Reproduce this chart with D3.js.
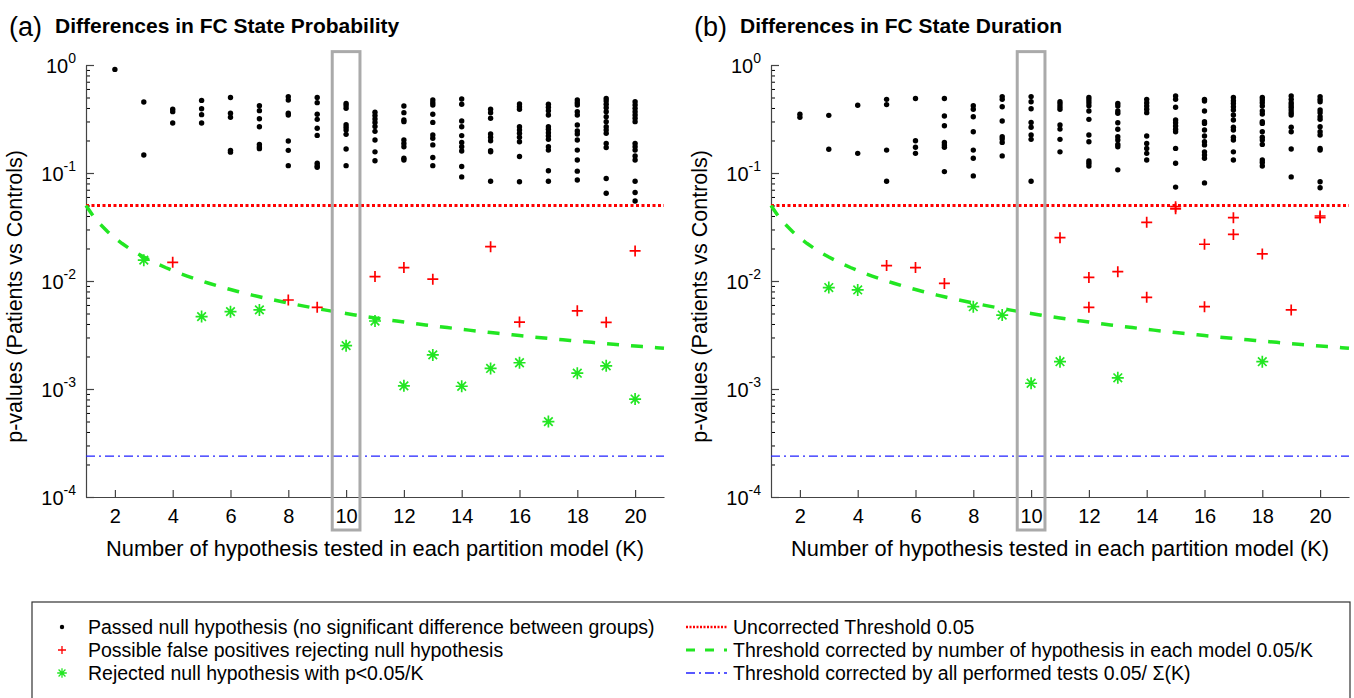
<!DOCTYPE html>
<html>
<head>
<meta charset="utf-8">
<script src="https://cdn.jsdelivr.net/npm/d3@7"></script>
<style>
  body { margin: 0; background: #fff; }
  text { font-family: "Liberation Sans", Arial, Helvetica, sans-serif; }
</style>
</head>
<body>
<script>
// K values (number of hypothesis per partition model)
var kValues = [2, 3, 4, 5, 6, 7, 8, 9, 10, 11, 12, 13, 14, 15, 16, 17, 18, 19, 20];
var xTicks = [2, 4, 6, 8, 10, 12, 14, 16, 18, 20];
var yTickExps = [0, -1, -2, -3, -4];

// (a) state probability: p-values that passed, one list per K
var passedProb = [
  [0.91],
  [0.454, 0.147],
  [0.389, 0.37, 0.29],
  [0.47, 0.394, 0.347, 0.29],
  [0.50, 0.357, 0.328, 0.162, 0.156],
  [0.42, 0.378, 0.318, 0.268, 0.184, 0.174, 0.168],
  [0.51, 0.474, 0.357, 0.344, 0.198, 0.162, 0.117],
  [0.50, 0.448, 0.35, 0.314, 0.26, 0.223, 0.123, 0.117, 0.113],
  [0.44, 0.42, 0.397, 0.28, 0.265, 0.25, 0.228, 0.167, 0.117],
  [0.365, 0.34, 0.316, 0.294, 0.27, 0.243, 0.202, 0.157, 0.13],
  [0.417, 0.362, 0.31, 0.299, 0.202, 0.188, 0.175, 0.137, 0.132],
  [0.474, 0.448, 0.426, 0.35, 0.294, 0.225, 0.21, 0.182, 0.139, 0.117],
  [0.484, 0.433, 0.303, 0.268, 0.222, 0.192, 0.175, 0.16, 0.115, 0.092],
  [0.389, 0.362, 0.321, 0.23, 0.214, 0.199, 0.161, 0.157, 0.084],
  [0.435, 0.411, 0.389, 0.268, 0.25, 0.233, 0.214, 0.195, 0.142, 0.083],
  [0.433, 0.406, 0.378, 0.344, 0.268, 0.254, 0.236, 0.22, 0.205, 0.175, 0.163, 0.105, 0.084],
  [0.474, 0.448, 0.426, 0.37, 0.344, 0.278, 0.245, 0.23, 0.202, 0.163, 0.132, 0.104, 0.086],
  [0.49, 0.464, 0.433, 0.403, 0.37, 0.332, 0.299, 0.268, 0.25, 0.233, 0.188, 0.172, 0.089, 0.065],
  [0.457, 0.426, 0.397, 0.37, 0.344, 0.321, 0.299, 0.188, 0.175, 0.163, 0.144, 0.132, 0.084, 0.066, 0.055]
];
// [K, p] possible false positives
var falsePosProb = [[4, 0.0149], [8, 0.00667], [9, 0.0057], [11, 0.011], [12, 0.0133], [13, 0.0104],
  [15, 0.0208], [16, 0.00417], [18, 0.0053], [19, 0.00414], [20, 0.019]];
// [K, p] rejected with p < 0.05/K
var rejectedProb = [[3, 0.0156], [5, 0.00468], [6, 0.0052], [7, 0.0054], [10, 0.00252], [11, 0.00426],
  [12, 0.00107], [13, 0.00207], [14, 0.00106], [15, 0.00155], [16, 0.00175], [17, 0.000499],
  [18, 0.0014], [19, 0.00164], [20, 0.000807]];

// (b) state duration
var passedDur = [
  [0.35, 0.328],
  [0.342, 0.166],
  [0.424, 0.152],
  [0.481, 0.43, 0.163, 0.084],
  [0.49, 0.199, 0.173, 0.152],
  [0.49, 0.337, 0.274, 0.192, 0.182, 0.173, 0.103],
  [0.42, 0.389, 0.332, 0.241, 0.163, 0.137, 0.094],
  [0.51, 0.481, 0.411, 0.303, 0.217, 0.206, 0.192, 0.144],
  [0.51, 0.457, 0.394, 0.294, 0.265, 0.225, 0.205, 0.084],
  [0.457, 0.435, 0.411, 0.389, 0.278, 0.255, 0.205, 0.157],
  [0.50, 0.474, 0.448, 0.42, 0.375, 0.314, 0.225, 0.195, 0.129, 0.123, 0.116],
  [0.44, 0.417, 0.375, 0.357, 0.292, 0.254, 0.217, 0.202, 0.184, 0.175, 0.107],
  [0.481, 0.448, 0.417, 0.389, 0.362, 0.22, 0.188, 0.169, 0.152, 0.132],
  [0.516, 0.481, 0.406, 0.31, 0.292, 0.272, 0.254, 0.241, 0.169, 0.123, 0.074],
  [0.481, 0.464, 0.375, 0.299, 0.288, 0.25, 0.22, 0.195, 0.182, 0.157, 0.147, 0.137, 0.081],
  [0.50, 0.467, 0.44, 0.411, 0.383, 0.344, 0.31, 0.265, 0.25, 0.214, 0.202, 0.157, 0.132],
  [0.50, 0.474, 0.448, 0.417, 0.375, 0.352, 0.299, 0.288, 0.241, 0.214, 0.202, 0.184, 0.132, 0.125, 0.116],
  [0.516, 0.481, 0.448, 0.426, 0.406, 0.383, 0.362, 0.344, 0.265, 0.241, 0.167, 0.092],
  [0.51, 0.481, 0.457, 0.383, 0.362, 0.332, 0.314, 0.268, 0.241, 0.225, 0.169, 0.163, 0.083, 0.073]
];
var falsePosDur = [[5, 0.0139], [6, 0.0133], [7, 0.0095], [11, 0.0252], [12, 0.0108], [12, 0.0057],
  [13, 0.0122], [14, 0.0349], [14, 0.00706], [15, 0.0488], [15, 0.0466], [16, 0.0219], [16, 0.00578],
  [17, 0.0386], [17, 0.027], [18, 0.0178], [19, 0.0054], [20, 0.040], [20, 0.0385]];
var rejectedDur = [[3, 0.0087], [4, 0.00826], [8, 0.00578], [9, 0.00484], [10, 0.00113], [11, 0.00179],
  [13, 0.00127], [18, 0.00179]];

// thresholds
var alpha = 0.05;
var totalTests = d3.sum(kValues);       // sum of K = 209
var lineK = d3.range(1, 21.01, 0.25);   // K values for the 0.05/K curve
var highlightK = 10;

var titles = ["Differences in FC State Probability", "Differences in FC State Duration"];
var letters = ["(a)", "(b)"];

var legendLeft = ["Passed null hypothesis (no significant difference between groups)",
  "Possible false positives rejecting null hypothesis",
  "Rejected null hypothesis with p<0.05/K"];
var legendRight = ["Uncorrected Threshold 0.05",
  "Threshold corrected by number of hypothesis in each model 0.05/K",
  "Threshold corrected by all performed tests 0.05/ \u03A3(K)"];

var w = 1354, h = 698;
var svg = d3.select("body").append("svg").attr("width", w).attr("height", h);

var starPath = "M-6,0L6,0M0,-6L0,6M-4.3,-4.3L4.3,4.3M-4.3,4.3L4.3,-4.3";
var plusPath = "M-5.5,0L5.5,0M0,-5.5L0,5.5";
var green = "#22e622";

var panels = [
  { left: 86, passed: passedProb, plus: falsePosProb, star: rejectedProb },
  { left: 771, passed: passedDur, plus: falsePosDur, star: rejectedDur }
];

panels.forEach(function(p, pi) {
  var x = d3.scaleLinear().domain([1, 21]).range([p.left, p.left + 578]);
  var y = d3.scaleLog().domain([1e-4, 1]).range([497, 65]);
  var g = svg.append("g");

  // title
  g.append("text").attr("x", p.left - 77).attr("y", 36)
    .attr("font-size", "27px").text(letters[pi]);
  g.append("text").attr("x", p.left - 31).attr("y", 33)
    .attr("font-size", "21px").attr("font-weight", "bold").text(titles[pi]);

  // minor log ticks
  var minor = [];
  yTickExps.slice(1).forEach(function(e) {
    for (var m = 2; m <= 9; m++) minor.push(m * Math.pow(10, e));
  });
  var yMinor = d3.axisLeft(y).tickValues(minor).tickSize(-4).tickSizeOuter(0).tickFormat("");
  g.append("g").attr("transform", "translate(" + x(1) + ",0)").call(yMinor)
    .call(function(s) { s.select(".domain").remove(); });

  var yAxis = d3.axisLeft(y).tickValues(yTickExps.map(function(e) { return Math.pow(10, e); }))
    .tickSize(-8).tickSizeOuter(0).tickFormat("");
  var yG = g.append("g").attr("transform", "translate(" + x(1) + ",0)").call(yAxis);

  var xAxis = d3.axisBottom(x).tickValues(xTicks).tickSize(-7).tickSizeOuter(0).tickPadding(12);
  var xG = g.append("g").attr("transform", "translate(0," + y(1e-4) + ")").call(xAxis);
  xG.selectAll("text").attr("font-size", "20px").attr("fill", "#000")
    .style("font-family", "'Liberation Sans', Arial, sans-serif");

  [yG, xG].forEach(function(a) {
    a.selectAll("path, line").attr("stroke", "#444").attr("stroke-width", 1.2);
  });

  // y tick labels 10^e
  yTickExps.forEach(function(e) {
    var t = g.append("text").attr("x", x(1) - 10).attr("y", y(Math.pow(10, e)) + 8)
      .attr("text-anchor", "end").attr("font-size", "20px");
    t.append("tspan").text("10");
    t.append("tspan").attr("dy", -10).attr("font-size", "14px").text(e);
  });

  // axis labels
  g.append("text")
    .attr("transform", "translate(" + (p.left - 64) + "," + y(0.0072) + ") rotate(-90)")
    .attr("text-anchor", "middle").attr("font-size", "21.5px")
    .text("p-values (Patients vs Controls)");
  g.append("text").attr("x", x(11)).attr("y", 556)
    .attr("text-anchor", "middle").attr("font-size", "21.8px")
    .text("Number of hypothesis tested in each partition model (K)");

  // threshold lines
  g.append("line").attr("x1", x(1)).attr("x2", x(21))
    .attr("y1", y(alpha)).attr("y2", y(alpha))
    .attr("stroke", "#ff0000").attr("stroke-width", 3).attr("stroke-dasharray", "3,2.5");
  g.append("line").attr("x1", x(1)).attr("x2", x(21))
    .attr("y1", y(alpha / totalTests)).attr("y2", y(alpha / totalTests))
    .attr("stroke", "#2222ff").attr("stroke-width", 1.3).attr("stroke-dasharray", "9,4,2,4");
  g.append("path").datum(lineK)
    .attr("d", d3.line().x(function(k) { return x(k); }).y(function(k) { return y(alpha / k); }))
    .attr("fill", "none").attr("stroke", green).attr("stroke-width", 3.5)
    .attr("stroke-dasharray", "12,12");

  // passed points
  var dots = [];
  p.passed.forEach(function(vals, i) {
    vals.forEach(function(v) { dots.push([kValues[i], v]); });
  });
  g.selectAll(".dot").data(dots).enter().append("circle")
    .attr("cx", function(d) { return x(d[0]); })
    .attr("cy", function(d) { return y(d[1]); })
    .attr("r", 2.7).attr("fill", "#000");

  g.selectAll(".plus").data(p.plus).enter().append("path")
    .attr("d", plusPath)
    .attr("transform", function(d) { return "translate(" + x(d[0]) + "," + y(d[1]) + ")"; })
    .attr("stroke", "#ff0000").attr("stroke-width", 1.7).attr("fill", "none");

  g.selectAll(".star").data(p.star).enter().append("path")
    .attr("d", starPath)
    .attr("transform", function(d) { return "translate(" + x(d[0]) + "," + y(d[1]) + ")"; })
    .attr("stroke", green).attr("stroke-width", 1.7).attr("fill", "none");

  // highlight box around K = 10
  g.append("rect")
    .attr("x", x(highlightK - 0.48)).attr("width", x(highlightK + 0.48) - x(highlightK - 0.48))
    .attr("y", y(1.33)).attr("height", y(1e-4) + 33 - y(1.33))
    .attr("fill", "none").attr("stroke", "#aaa").attr("stroke-width", 3);
});

// legend
var lg = svg.append("g");
lg.append("rect").attr("x", 32).attr("y", 602).attr("width", 1318).attr("height", 120)
  .attr("fill", "#fff").attr("stroke", "#333").attr("stroke-width", 1.2);

var rowY = [627, 650, 673];
lg.append("circle").attr("cx", 62).attr("cy", rowY[0]).attr("r", 2.2).attr("fill", "#000");
lg.append("path").attr("d", "M-4,0L4,0M0,-4L0,4").attr("transform", "translate(62," + rowY[1] + ")")
  .attr("stroke", "#ff0000").attr("stroke-width", 1.3);
lg.append("path").attr("d", starPath).attr("transform", "translate(62," + rowY[2] + ") scale(0.8)")
  .attr("stroke", green).attr("stroke-width", 1.6);
legendLeft.forEach(function(t, i) {
  lg.append("text").attr("x", 88).attr("y", rowY[i] + 7).attr("font-size", "19.5px").text(t);
});

var sampleStyles = [
  { c: "#ff0000", wd: 2.5, dash: "2,1.5" },
  { c: green, wd: 3, dash: "9,10" },
  { c: "#2222ff", wd: 1.3, dash: "9,4,2,4" }
];
sampleStyles.forEach(function(s, i) {
  lg.append("line").attr("x1", 686).attr("x2", 727).attr("y1", rowY[i]).attr("y2", rowY[i])
    .attr("stroke", s.c).attr("stroke-width", s.wd).attr("stroke-dasharray", s.dash);
});
legendRight.forEach(function(t, i) {
  lg.append("text").attr("x", 733).attr("y", rowY[i] + 7).attr("font-size", "19.5px").text(t);
});
</script>
</body>
</html>
